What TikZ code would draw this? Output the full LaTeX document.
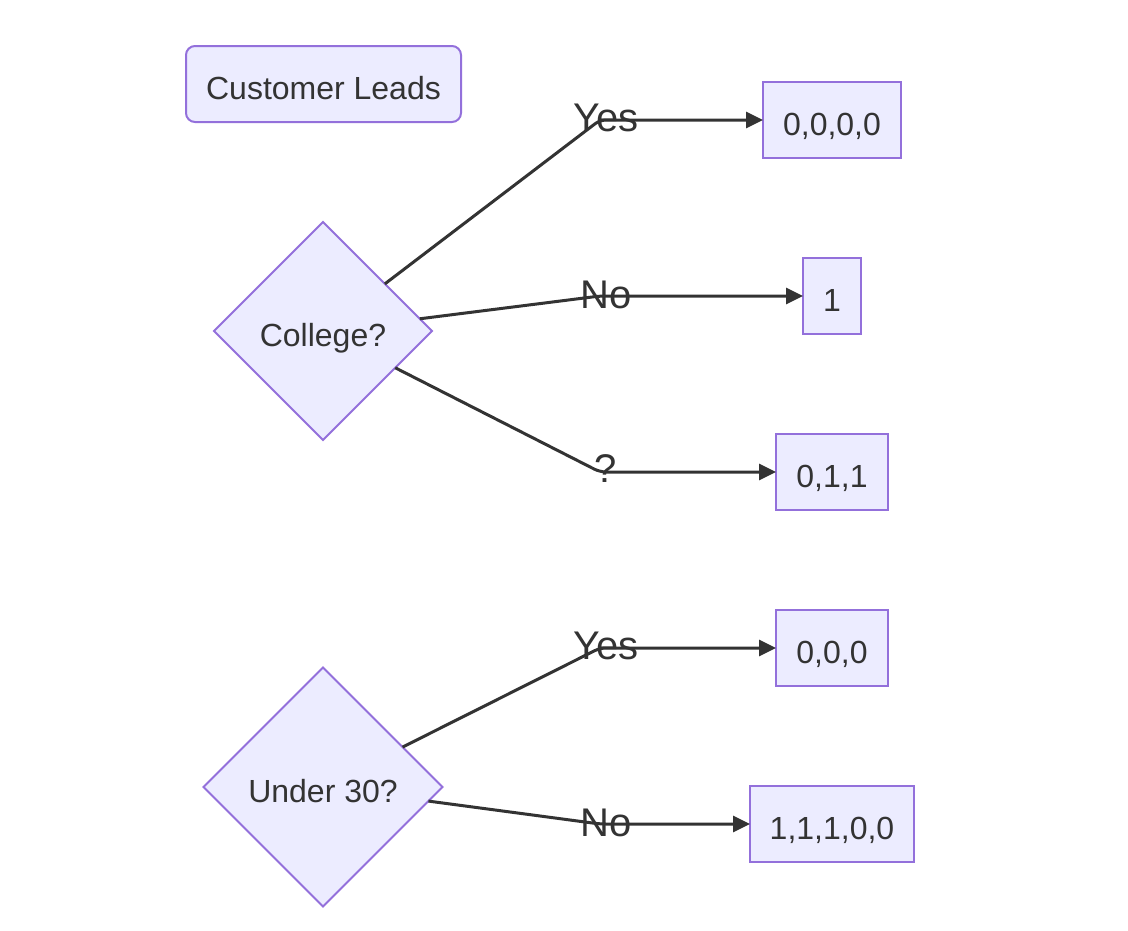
\documentclass[tikz,border=0pt]{standalone}
\usepackage{fontspec}
\setmainfont{Liberation Sans}
\usetikzlibrary{shapes.geometric,arrows.meta}
\definecolor{nodefill}{HTML}{ECECFF}
\definecolor{nodeline}{HTML}{9370DB}
\definecolor{ink}{HTML}{333333}
\begin{document}
\begin{tikzpicture}[x=1pt,y=-1pt,
  base/.style={fill=nodefill,draw=nodeline,line width=2pt,text=ink,
    font=\fontsize{32}{38}\selectfont,inner sep=0pt,outer sep=0pt,
    text height=30pt,text depth=0pt},
  leaf/.style={base,rectangle,minimum height=76pt},
  start/.style={base,rectangle,rounded corners=9pt,minimum width=275pt,minimum height=76pt},
  decision/.style={base,diamond,aspect=1},
  edge/.style={draw=ink,line width=3pt,rounded corners=6pt,
    -{Triangle[length=17pt,width=16pt]}},
  elabel/.style={text=ink,font=\fontsize{40}{48}\selectfont,inner sep=0pt,text depth=0pt}
]
\useasboundingbox (0,0) rectangle (1128,930);

% title box
\node[start] (leads) at (323.5,84) {Customer Leads};

% first decision and its outcomes
\node[decision,minimum width=218pt,minimum height=218pt] (college) at (323,331) {College?};
\node[leaf,minimum width=138pt] (c1) at (832,120) {0,0,0,0};
\node[leaf,minimum width=58pt]  (c2) at (832,296) {1};
\node[leaf,minimum width=112pt] (c3) at (832,472) {0,1,1};

% second decision and its outcomes
\node[decision,minimum width=239pt,minimum height=239pt] (age) at (323,787) {Under 30?};
\node[leaf,minimum width=112pt] (a1) at (832,648) {0,0,0};
\node[leaf,minimum width=164pt] (a2) at (832,824) {1,1,1,0,0};

% bend points of the connectors
\coordinate (bc1) at (600,120);
\coordinate (bc2) at (600,296);
\coordinate (bc3) at (600,472);
\coordinate (ba1) at (600,648);
\coordinate (ba2) at (600,824);

\draw[edge] (college) -- (bc1) -- (c1);
\draw[edge] (college) -- (bc2) -- (c2);
\draw[edge] (college) -- (bc3) -- (c3);
\draw[edge] (age) -- (ba1) -- (a1);
\draw[edge] (age) -- (ba2) -- (a2);

% connector labels
\node[elabel] (lc1) at (606,118) {Yes};
\node[elabel] (lc2) at (606,295) {No};
\node[elabel] (lc3) at (606,469) {?};
\node[elabel] (la1) at (606,646) {Yes};
\node[elabel] (la2) at (606,823) {No};
\end{tikzpicture}
\end{document}
